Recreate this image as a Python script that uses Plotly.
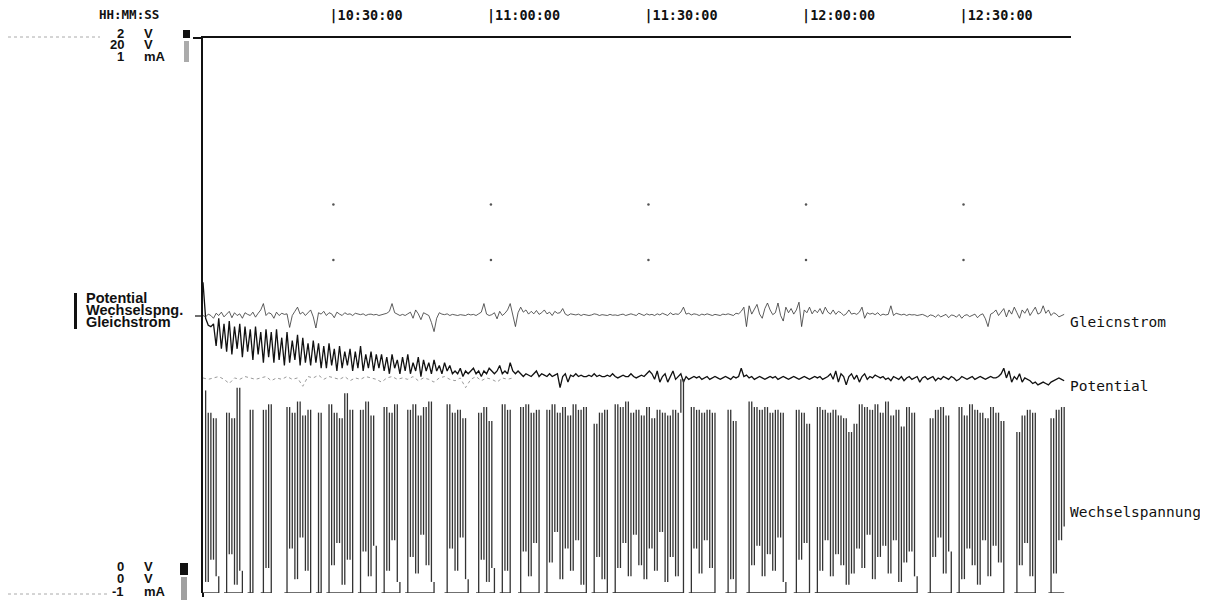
import datetime as dt
import plotly.graph_objects as go

# ---------------- data ----------------
START = dt.datetime(2000, 1, 1, 10, 5, 10)
STEP_S = 30          # sample spacing of the recorder, seconds
GHOST_STEP_S = 60

tick_times = ["10:30:00", "11:00:00", "11:30:00", "12:00:00", "12:30:00"]
tick_labels = ["|10:30:00", "|11:00:00", "|11:30:00", "|12:00:00", "|12:30:00"]
grid_levels = [1.40, 1.20]   # V on the Potential scale (dotted grid)

# Potential (V, scale 0..2 V)
potential = [
    1.12, 0.99, 0.965, 0.96,
    0.97, 0.89, 0.99, 0.88, 0.97, 0.87, 0.98, 0.86, 0.96, 0.88, 0.97, 0.85, 0.96, 0.87, 0.95, 0.84, 0.96, 0.86, 0.94, 0.83, 0.95, 0.85,
    0.94, 0.83, 0.95, 0.84, 0.92, 0.82, 0.94, 0.83, 0.91, 0.84, 0.93, 0.82, 0.92, 0.83, 0.90, 0.82, 0.91, 0.83, 0.90, 0.81,
    0.89, 0.81, 0.90, 0.82, 0.88, 0.80, 0.89, 0.81, 0.87, 0.82, 0.88, 0.80, 0.87, 0.81, 0.89, 0.80, 0.86, 0.81, 0.87, 0.80, 0.86, 0.81,
    0.86, 0.80, 0.85, 0.79, 0.86, 0.81, 0.84, 0.79, 0.85, 0.80, 0.86, 0.79, 0.83, 0.80, 0.85, 0.78, 0.84, 0.80, 0.83, 0.79, 0.84, 0.80, 0.82, 0.79, 0.83, 0.80, 0.82, 0.79,
    0.80, 0.79, 0.81, 0.78, 0.80, 0.79, 0.80, 0.81, 0.79, 0.80, 0.78, 0.80, 0.79, 0.81, 0.80, 0.79, 0.80, 0.82, 0.79, 0.80, 0.79, 0.83, 0.80, 0.79, 0.80,
    0.79, 0.78, 0.79, 0.785, 0.78, 0.79, 0.80, 0.78, 0.79, 0.785, 0.78, 0.79, 0.78, 0.785, 0.79, 0.74, 0.78, 0.79, 0.76, 0.785,
    0.78, 0.79, 0.78, 0.785, 0.78, 0.78, 0.785, 0.78, 0.79, 0.78, 0.785, 0.78, 0.78, 0.785, 0.78, 0.79, 0.78, 0.775, 0.78, 0.785,
    0.78, 0.78, 0.79, 0.78, 0.775, 0.78, 0.785, 0.78, 0.79, 0.80,
    0.79, 0.77, 0.80, 0.76, 0.78, 0.79, 0.76, 0.78, 0.80, 0.77, 0.78, 0.79, 0.76, 0.78, 0.77, 0.775,
    0.78, 0.775, 0.78, 0.77, 0.775, 0.78, 0.77, 0.775, 0.78, 0.775, 0.77, 0.775, 0.78, 0.775, 0.77, 0.78, 0.775, 0.78,
    0.81, 0.78, 0.785, 0.775, 0.78, 0.77, 0.775, 0.78, 0.775, 0.77, 0.775, 0.78, 0.775, 0.78, 0.77, 0.775, 0.78,
    0.775, 0.77, 0.775, 0.78, 0.775, 0.77, 0.775, 0.78, 0.775, 0.77, 0.775, 0.78, 0.775, 0.78, 0.77, 0.775, 0.78,
    0.79, 0.77, 0.80, 0.76, 0.79, 0.78, 0.75, 0.78, 0.79, 0.77, 0.785, 0.76, 0.78, 0.79, 0.77, 0.78, 0.775, 0.785, 0.78,
    0.775, 0.78, 0.77, 0.775, 0.765, 0.78, 0.775, 0.77, 0.78, 0.765, 0.775, 0.78, 0.77, 0.775, 0.78, 0.76, 0.775, 0.78, 0.77, 0.775,
    0.78, 0.765, 0.775, 0.77, 0.78, 0.775, 0.77, 0.78, 0.775, 0.765, 0.77, 0.78, 0.775, 0.77, 0.775, 0.78, 0.77, 0.775, 0.78, 0.775,
    0.77, 0.775, 0.78, 0.775, 0.775, 0.78,
    0.79, 0.81, 0.775, 0.80, 0.76, 0.78, 0.77, 0.79, 0.76, 0.775, 0.77, 0.765, 0.755, 0.76, 0.75, 0.755, 0.76, 0.755, 0.75, 0.76,
    0.765, 0.77, 0.775, 0.77, 0.765,
]

# Gleichstrom (mA, scale -1..1 mA)
gleichstrom = [
    0.0, -0.005, 0.005, 0.0, -0.01, 0.008, 0.0, 0.012, -0.005, 0.005, 0.015, -0.008, 0.01, 0.0, 0.006, -0.01, 0.01, 0.004, 0.0, 0.012, -0.006, 0.008, 0.02,
    0.043, 0.0, 0.01, 0.006, -0.01, 0.012, 0.0, 0.008, 0.004, 0.006, -0.043, 0.0, 0.015, 0.03, 0.005, 0.012, 0.0, 0.01,
    0.02, -0.005, -0.045, 0.01, 0.005, 0.015, 0.0, 0.01, 0.006, -0.008, 0.012, 0.005, 0.0, 0.01, 0.004, 0.006, 0.0, 0.008, 0.005, 0.003,
    0.006, 0.0, 0.004, 0.005, 0.002, 0.004, 0.0, 0.003, 0.005, 0.008, 0.015, 0.043, 0.01, 0.005, 0.0,
    0.004, 0.0, 0.006, 0.012, -0.01, 0.02, 0.006, -0.015, 0.01, 0.004, 0.0, -0.025, -0.058, -0.01, 0.01, 0.005, 0.003, 0.006, 0.0, 0.004,
    0.002, 0.0, 0.003, 0.001, 0.0,
    0.005, 0.002, 0.004, 0.0, 0.006, 0.012, 0.043, 0.005, 0.0, 0.003, 0.01, -0.012, 0.015, 0.0, 0.008, 0.02, 0.043, 0.0, -0.04, 0.01,
    0.03, 0.012, 0.02, 0.005, 0.015, 0.006, 0.018, 0.004, 0.01, 0.02,
    0.006, 0.012, 0.0, 0.015, 0.008, 0.01, 0.025, 0.005, 0.0, 0.006, 0.004, 0.002, 0.005, 0.0, 0.004, 0.003, 0.0, 0.002, 0.006, 0.004,
    0.0, 0.003, 0.002, 0.0, 0.004, 0.001, 0.002, 0.0, 0.003, 0.005, 0.0, 0.002, 0.006, 0.003, 0.0, 0.008, 0.004, 0.0, 0.006, 0.002,
    0.004, 0.0, 0.006, 0.002, 0.008, 0.004, 0.0, 0.01, 0.003, 0.006, 0.004, 0.012, 0.03, 0.005, 0.008, 0.002, 0.006, 0.004, 0.0, 0.005,
    0.002, 0.006, 0.003, 0.0, 0.004, 0.002, 0.0, 0.005, 0.003, 0.006,
    0.004, 0.0, 0.008, 0.006, 0.015, 0.03, -0.04, 0.035, 0.005, 0.02, 0.04, 0.005, -0.01, 0.025, 0.045, 0.02, 0.003, 0.01, 0.045, 0.0,
    -0.02, 0.03, 0.01, 0.025, 0.005, 0.02, 0.048, -0.04, 0.02, 0.01, 0.03, 0.006, 0.02, 0.01, 0.025, 0.005, 0.03, 0.012, 0.005, 0.02,
    0.004, 0.015, 0.01, 0.0, 0.006, 0.02, 0.005, 0.008, 0.004, 0.012, 0.03, -0.01, 0.01, 0.005, 0.008, 0.003, 0.01, 0.0, 0.005, 0.002,
    0.004, 0.035, 0.0, 0.008, 0.006, 0.002, 0.005, 0.0, 0.004, 0.002, 0.003, 0.0, 0.002, 0.004, 0.0, -0.005, 0.002, 0.0, -0.006, 0.003,
    -0.005, 0.0, 0.004, -0.008, 0.002, 0.0, -0.006, 0.004, -0.01, 0.0, 0.003, -0.004, 0.0, 0.005, -0.008, 0.002, 0.006, -0.012, -0.04, 0.005,
    0.01, 0.02, 0.0, 0.015, 0.025, -0.005, 0.02, 0.005, 0.03, 0.01, -0.01, 0.02, 0.008, 0.025, 0.0, 0.015, 0.03, 0.005, 0.01, 0.035,
    0.008, 0.02, 0.0, 0.01, 0.005, -0.005, 0.0, 0.004,
]

# Wechselspannung (V, scale 0..20 V); None = pen lifted
N = None
wechselspannung = [
    7.3, 0.4, 6.5, 1.2, 6.3, 0.6, 0, N,
    0, 6.5, 1.4, 6.3, 0.3, 7.4, 0.8, 0, N,
    0, 6.6, 0, N, N,
    0, 6.6, 0.9, 6.8, 0, N, N, N, N,
    0, 6.7, 1.6, 6.5, 0.5, 6.9, 2.0, 6.4, 0.8, 6.6, 0, N,
    0, 6.5, 0, N,
    0, 6.8, 1.0, 6.5, 1.8, 6.3, 0.3, 7.2, 1.2, 6.6, 0, N,
    0, 6.6, 1.5, 6.9, 0.6, 6.4, 1.7, 0, N,
    0, 6.7, 0.8, 6.5, 1.9, 6.8, 0.4, 0, N,
    0, 6.6, 1.3, 6.8, 0.7, 6.4, 2.1, 6.7, 1.0, 6.9, 0.4, 0, N, N, N,
    0, 6.8, 1.6, 6.5, 0.8, 6.6, 2.0, 6.3, 0.5, 0, N, N,
    0, 6.5, 1.2, 6.7, 0.4, 6.2, 0.9, 0, N,
    0, 6.8, 0.8, 6.6, 0, N, N,
    0, 6.7, 1.5, 6.8, 0.6, 6.5, 1.8, 6.6, 0, N,
    0, 6.6, 1.1, 6.8, 2.2, 6.5, 0.5, 6.7, 1.6, 6.4, 0.8, 6.8, 1.9, 6.6, 0.3, 6.7, 0, N,
    0, 6.1, 1.3, 6.5, 0.5, 6.6, 0, N,
    0, 6.8, 0.9, 6.7, 1.8, 6.9, 0.6, 6.5, 2.1, 6.6, 1.0, 6.4, 0.5, 6.7, 1.6, 6.3, 0.8, 6.6, 2.2, 6.5,
    0.4, 6.4, 1.3, 6.6, 0.6, 6.5, 7.7, 0, N,
    0, 6.7, 1.6, 6.6, 0.7, 6.5, 1.9, 6.6, 0.9, 6.5, 0, N, N, N,
    0, 6.6, 0.5, 6.2, 0, N, N, N,
    0, 6.9, 1.0, 6.7, 1.7, 6.6, 0.6, 6.7, 1.4, 6.5, 0.8, 6.6, 2.0, 6.5, 0.4, 0, N, N,
    0, 6.6, 1.2, 6.5, 1.8, 6.1, 0, N,
    0, 6.7, 0.8, 6.6, 1.9, 6.5, 0.6, 6.6, 1.4, 6.4, 1.0, 6.3, 0.3, 5.8, 0.7, 6.1, 1.6, 6.8, 0.9, 6.7,
    2.1, 6.6, 0.5, 6.8, 1.3, 6.5, 1.7, 6.9, 0.7, 6.4, 1.9, 6.6, 0.4, 6.0, 1.1, 6.7, 1.5, 6.5, 0.6, 0, N, N, N,
    0, 6.3, 1.3, 6.6, 2.0, 6.7, 0.7, 6.4, 1.5, 0, N,
    0, 6.7, 0.5, 6.4, 1.6, 6.8, 1.0, 6.6, 0.3, 6.5, 1.9, 6.3, 0.6, 6.7, 1.7, 6.5, 1.1, 6.2, 0, N, N, N,
    0, 5.8, 1.0, 6.4, 1.8, 6.6, 0.6, 6.5, 0, N, N, N, N,
    0, 6.3, 0.7, 6.6, 1.9, 6.7, 2.4,
]

# faint dotted trace (V, Potential scale) at the start of the record
ghost = [0.775, 0.77, 0.775, 0.78, 0.77, 0.755, 0.775, 0.77, 0.78, 0.775, 0.77, 0.775, 0.78, 0.765, 0.775,
         0.77, 0.78, 0.77, 0.775, 0.745, 0.78, 0.775, 0.785, 0.77, 0.78, 0.775, 0.77, 0.78, 0.765, 0.775,
         0.77, 0.78, 0.775, 0.77, 0.76, 0.775, 0.78, 0.77, 0.775, 0.77, 0.78, 0.765, 0.775, 0.77, 0.76,
         0.775, 0.78, 0.77, 0.765, 0.775, 0.74, 0.77, 0.78, 0.765, 0.775, 0.77, 0.76, 0.775, 0.77, 0.775]


def times(n, step):
    return [START + dt.timedelta(seconds=step * i) for i in range(n)]


def at(hms):
    h, m, s = map(int, hms.split(":"))
    return dt.datetime(2000, 1, 1, h, m, s)


# ---------------- figure ----------------
OFF = 8                       # page body margin of the browser
W_FIG, H_FIG = 1208 - OFF, 605 - OFF
L, R, T, B = 203, 1071, 38, 593   # plot area in page pixels

fig = go.Figure()

fig.add_trace(go.Scatter(x=times(len(ghost), GHOST_STEP_S), y=ghost, yaxis="y",
                         mode="lines", line=dict(color="#9a9a9a", width=1, dash="dot"),
                         hoverinfo="skip"))

# Wechselspannung: each sample is a vertical pen stroke from the previous level
wt = times(len(wechselspannung), STEP_S)
sx, sy = [], []
for i in range(1, len(wechselspannung)):
    a, b = wechselspannung[i - 1], wechselspannung[i]
    if a is None or b is None:
        continue
    sx += [wt[i], wt[i], None]
    sy += [a, b, None]
base = [0 if v is not None else None for v in wechselspannung]
fig.add_trace(go.Scatter(x=wt, y=base, yaxis="y2",
                         mode="lines", line=dict(color="#222", width=1.3),
                         connectgaps=False, hoverinfo="skip"))
fig.add_trace(go.Scatter(x=sx, y=sy, yaxis="y2",
                         mode="lines", line=dict(color="#333", width=1.3),
                         connectgaps=False, name="Wechselspannung"))

fig.add_trace(go.Scatter(x=times(len(gleichstrom), STEP_S), y=gleichstrom, yaxis="y3",
                         mode="lines", line=dict(color="#333", width=0.8), name="Gleichstrom"))

fig.add_trace(go.Scatter(x=times(len(potential), STEP_S), y=potential, yaxis="y",
                         mode="lines", line=dict(color="#111", width=1.3), name="Potential"))

gx, gy = [], []
for lv in grid_levels:
    for t in tick_times:
        gx.append(at(t))
        gy.append(lv)
fig.add_trace(go.Scatter(x=gx, y=gy, yaxis="y", mode="markers",
                         marker=dict(color="#555", size=2.5), hoverinfo="skip"))

fig.update_layout(
    width=W_FIG, height=H_FIG,
    margin=dict(l=L - OFF, r=W_FIG - (R - OFF), t=T - OFF, b=H_FIG - (B - OFF), pad=0, autoexpand=False),
    paper_bgcolor="white", plot_bgcolor="white",
    showlegend=False,
    xaxis=dict(
        type="date", side="top", automargin=False,
        range=[dt.datetime(2000, 1, 1, 10, 5, 10), dt.datetime(2000, 1, 1, 12, 50, 28)],
        tickvals=[at(t) for t in tick_times], ticktext=tick_labels,
        ticks="", ticklabelposition="outside right", ticklabelstandoff=11, ticklabelshift=-5,
        tickfont=dict(family="DejaVu Sans Mono", size=13.5, color="#111", weight="bold"),
        showgrid=False, zeroline=False,
        showline=True, linecolor="#111", linewidth=2,
    ),
    yaxis=dict(range=[0, 2], showgrid=False, zeroline=False, showticklabels=False,
               ticks="", showline=True, linecolor="#111", linewidth=2, automargin=False),
    yaxis2=dict(range=[0, 20], overlaying="y", visible=False),
    yaxis3=dict(range=[-1, 1], overlaying="y", visible=False),
)


def px_x(px):
    return (px - L) / (R - L)


def px_y(py):
    return (B - py) / (B - T)


ann = []
lab_font = dict(family="Liberation Sans", size=13, color="#111", weight="bold")
# scale labels: top (full scale) and bottom (zero)
for num, unit, py in [("2", "V", 33), ("20", "V", 45), ("1", "mA", 57),
                      ("0", "V", 566), ("0", "V", 578), ("-1", "mA", 591)]:
    ann.append(dict(x=px_x(126), y=px_y(py), xref="paper", yref="paper", text=num,
                    showarrow=False, xanchor="right", yanchor="middle", font=lab_font))
    ann.append(dict(x=px_x(142), y=px_y(py), xref="paper", yref="paper", text=unit,
                    showarrow=False, xanchor="left", yanchor="middle", font=lab_font))
# channel legend
leg_font = dict(family="Liberation Sans", size=14.5, color="#111", weight="bold")
for txt, py in [("Potential", 298), ("Wechselspng.", 310), ("Gleichstrom", 322)]:
    ann.append(dict(x=px_x(84), y=px_y(py), xref="paper", yref="paper", text=txt,
                    showarrow=False, xanchor="left", yanchor="middle", font=leg_font))
# header
ann.append(dict(x=px_x(97), y=px_y(14), xref="paper", yref="paper", text="HH:MM:SS",
                showarrow=False, xanchor="left", yanchor="middle",
                font=dict(family="DejaVu Sans Mono", size=12.5, color="#111", weight="bold")))
# trace names on the right
rfont = dict(family="DejaVu Sans Mono", size=14.5, color="#111")
for txt, py in [("Gleicnstrom", 322), ("Potential", 386), ("Wechselspannung", 512)]:
    ann.append(dict(x=px_x(1068), y=px_y(py), xref="paper", yref="paper", text=txt,
                    showarrow=False, xanchor="left", yanchor="middle", font=rfont))
fig.update_layout(annotations=ann)

shapes = [
    # extension of top line to the left
    dict(type="line", xref="paper", yref="paper", x0=px_x(193), x1=0, y0=1, y1=1,
         line=dict(color="#111", width=2)),
    # zero tick for Gleichstrom
    dict(type="line", xref="paper", yref="paper", x0=px_x(195), x1=0, y0=px_y(316), y1=px_y(316),
         line=dict(color="#111", width=1.2)),
    # left axis extension below baseline
    dict(type="line", xref="paper", yref="paper", x0=0, x1=0, y0=0, y1=px_y(597),
         line=dict(color="#111", width=2)),
    # legend bar
    dict(type="rect", xref="paper", yref="paper", x0=px_x(74), x1=px_x(77), y0=px_y(329), y1=px_y(293),
         fillcolor="#111", line=dict(width=0)),
    # recorder marks top
    dict(type="rect", xref="paper", yref="paper", x0=px_x(183), x1=px_x(190), y0=px_y(38), y1=px_y(30),
         fillcolor="#111", line=dict(width=0)),
    dict(type="rect", xref="paper", yref="paper", x0=px_x(184), x1=px_x(189), y0=px_y(62), y1=px_y(41),
         fillcolor="#888", line=dict(width=0), opacity=0.7),
    # recorder marks bottom
    dict(type="rect", xref="paper", yref="paper", x0=px_x(180), x1=px_x(188), y0=px_y(575), y1=px_y(563),
         fillcolor="#111", line=dict(width=0)),
    dict(type="rect", xref="paper", yref="paper", x0=px_x(181), x1=px_x(187), y0=px_y(600), y1=px_y(577),
         fillcolor="#777", line=dict(width=0), opacity=0.7),
    # faint dotted rulers at the left margin
    dict(type="line", xref="paper", yref="paper", x0=px_x(8), x1=px_x(100), y0=px_y(37), y1=px_y(37),
         line=dict(color="#aaa", width=1, dash="dot")),
    dict(type="line", xref="paper", yref="paper", x0=px_x(8), x1=px_x(110), y0=px_y(594), y1=px_y(594),
         line=dict(color="#aaa", width=1, dash="dot")),
]
fig.update_layout(shapes=shapes)

fig.write_html("out.html")
